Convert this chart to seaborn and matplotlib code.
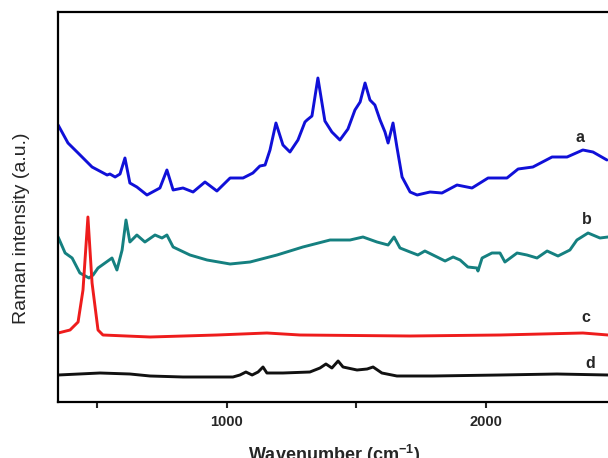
import matplotlib
matplotlib.use("Agg")
import matplotlib.pyplot as plt
import seaborn as sns
import pandas as pd

# ---- data ----
wn_a = [348, 386, 425, 479, 537, 548, 568, 587, 606, 625, 652, 691, 741, 768, 792, 830, 869,
        915, 961, 1012, 1062, 1100, 1127, 1147, 1166, 1189, 1216, 1243, 1274, 1301, 1309, 1328,
        1351, 1378, 1405, 1436, 1467, 1494, 1514, 1533, 1552, 1571, 1591, 1610, 1622, 1641, 1656,
        1676, 1707, 1734, 1784, 1830, 1888, 1946, 2008, 2081, 2124, 2181, 2255, 2313, 2374, 2413, 2467]
int_a = [277, 259, 249, 235, 227, 228, 225, 228, 244, 219, 215, 207, 214, 232, 212, 214, 210,
         220, 211, 224, 224, 229, 236, 237, 252, 279, 257, 250, 262, 280, 282, 286,
         324, 281, 270, 262, 273, 292, 300, 319, 302, 297, 282, 270, 259, 279, 255,
         225, 210, 207, 210, 209, 217, 214, 224, 224, 233, 235, 245, 245, 252, 250, 242]

wn_b = [348, 375, 402, 432, 467, 483, 502, 529, 556, 575, 595, 610, 625, 652, 683, 722, 749, 768,
        792, 857, 923, 1012, 1089, 1193, 1293, 1398, 1475, 1525, 1579, 1622, 1645, 1668, 1707,
        1737, 1764, 1811, 1842, 1873, 1900, 1930, 1965, 1969, 1985, 2023, 2054, 2073, 2120, 2158,
        2197, 2236, 2278, 2324, 2351, 2394, 2440, 2471]
int_b = [165, 149, 144, 129, 124, 127, 134, 139, 144, 132, 152, 182, 160, 167, 160, 167, 164, 167,
         155, 147, 142, 138, 140, 147, 155, 162, 162, 165, 160, 157, 165, 154, 150,
         147, 151, 145, 141, 145, 142, 135, 134, 131, 144, 149, 149, 140, 149, 147,
         144, 151, 146, 152, 162, 169, 164, 165]

wn_c = [348, 394, 425, 444, 463, 479, 502, 521, 703, 961, 1154, 1282, 1707, 2054, 2374, 2471]
int_c = [69, 72, 80, 112, 185, 119, 72, 67, 65, 67, 69, 67, 66, 67, 69, 67]

wn_d = [348, 510, 625, 703, 830, 1023, 1050, 1073, 1097, 1120, 1139, 1154, 1216, 1320, 1359,
        1382, 1405, 1429, 1448, 1502, 1541, 1564, 1598, 1656, 1795, 2054, 2274, 2471]
int_d = [27, 29, 28, 26, 25, 25, 27, 30, 27, 30, 35, 29, 29, 30, 34,
         38, 34, 41, 35, 32, 33, 35, 29, 26, 26, 27, 28, 27]

series_names = ["a", "b", "c", "d"]
series_colors = ["#1010d8", "#158080", "#ee1c1c", "#111111"]
label_pos_x = [2363, 2390, 2386, 2402]
label_pos_y = [264, 183, 84, 39]

frames = []
for name, wn, it in zip(series_names, [wn_a, wn_b, wn_c, wn_d], [int_a, int_b, int_c, int_d]):
    frames.append(pd.DataFrame({"wavenumber": wn, "intensity": it, "sample": name}))
df = pd.concat(frames, ignore_index=True)

sns.set_style("ticks")
plt.rcParams["font.family"] = ["Liberation Sans", "DejaVu Sans"]
plt.rcParams["mathtext.fontset"] = "custom"
plt.rcParams["mathtext.rm"] = "Liberation Sans:bold"
plt.rcParams["mathtext.bf"] = "Liberation Sans:bold"

fig = plt.figure(figsize=(6.08, 4.58), dpi=100)
ax = fig.add_axes([58 / 608, 56 / 458, 1.02 - 58 / 608, 390 / 458])

sns.lineplot(data=df, x="wavenumber", y="intensity", hue="sample",
             palette=dict(zip(series_names, series_colors)), sort=False,
             estimator=None, linewidth=2.1, legend=False, ax=ax)

ax.set_xlim(347.5, 2518)
ax.set_ylim(0, 390)
ax.set_xticks([1000, 2000])
ax.set_xticks([500, 1500, 2500], minor=True)
ax.set_yticks([])
ax.tick_params(axis="x", which="both", direction="out", length=4, width=1.5, pad=5,
               labelsize=10.5)
for lab in ax.get_xticklabels():
    lab.set_fontweight("bold")
for sp in ax.spines.values():
    sp.set_linewidth(1.6)
    sp.set_color("black")
ax.spines["right"].set_visible(False)
ax.set_xlabel("")
ax.set_ylabel("")

for name, lx, ly in zip(series_names, label_pos_x, label_pos_y):
    ax.text(lx, ly, name, fontsize=11.5, fontweight="bold", ha="center", va="center")

fig.text(334 / 608, 1 - 443 / 458, r"Wavenumber (cm$^{-1}$)", fontsize=13,
         fontweight="bold", ha="center", va="top")
fig.text(22 / 608, 1 - 228 / 458, "Raman intensity (a.u.)", fontsize=14,
         rotation=90, ha="center", va="center")

fig.savefig("out.png", dpi=100)
